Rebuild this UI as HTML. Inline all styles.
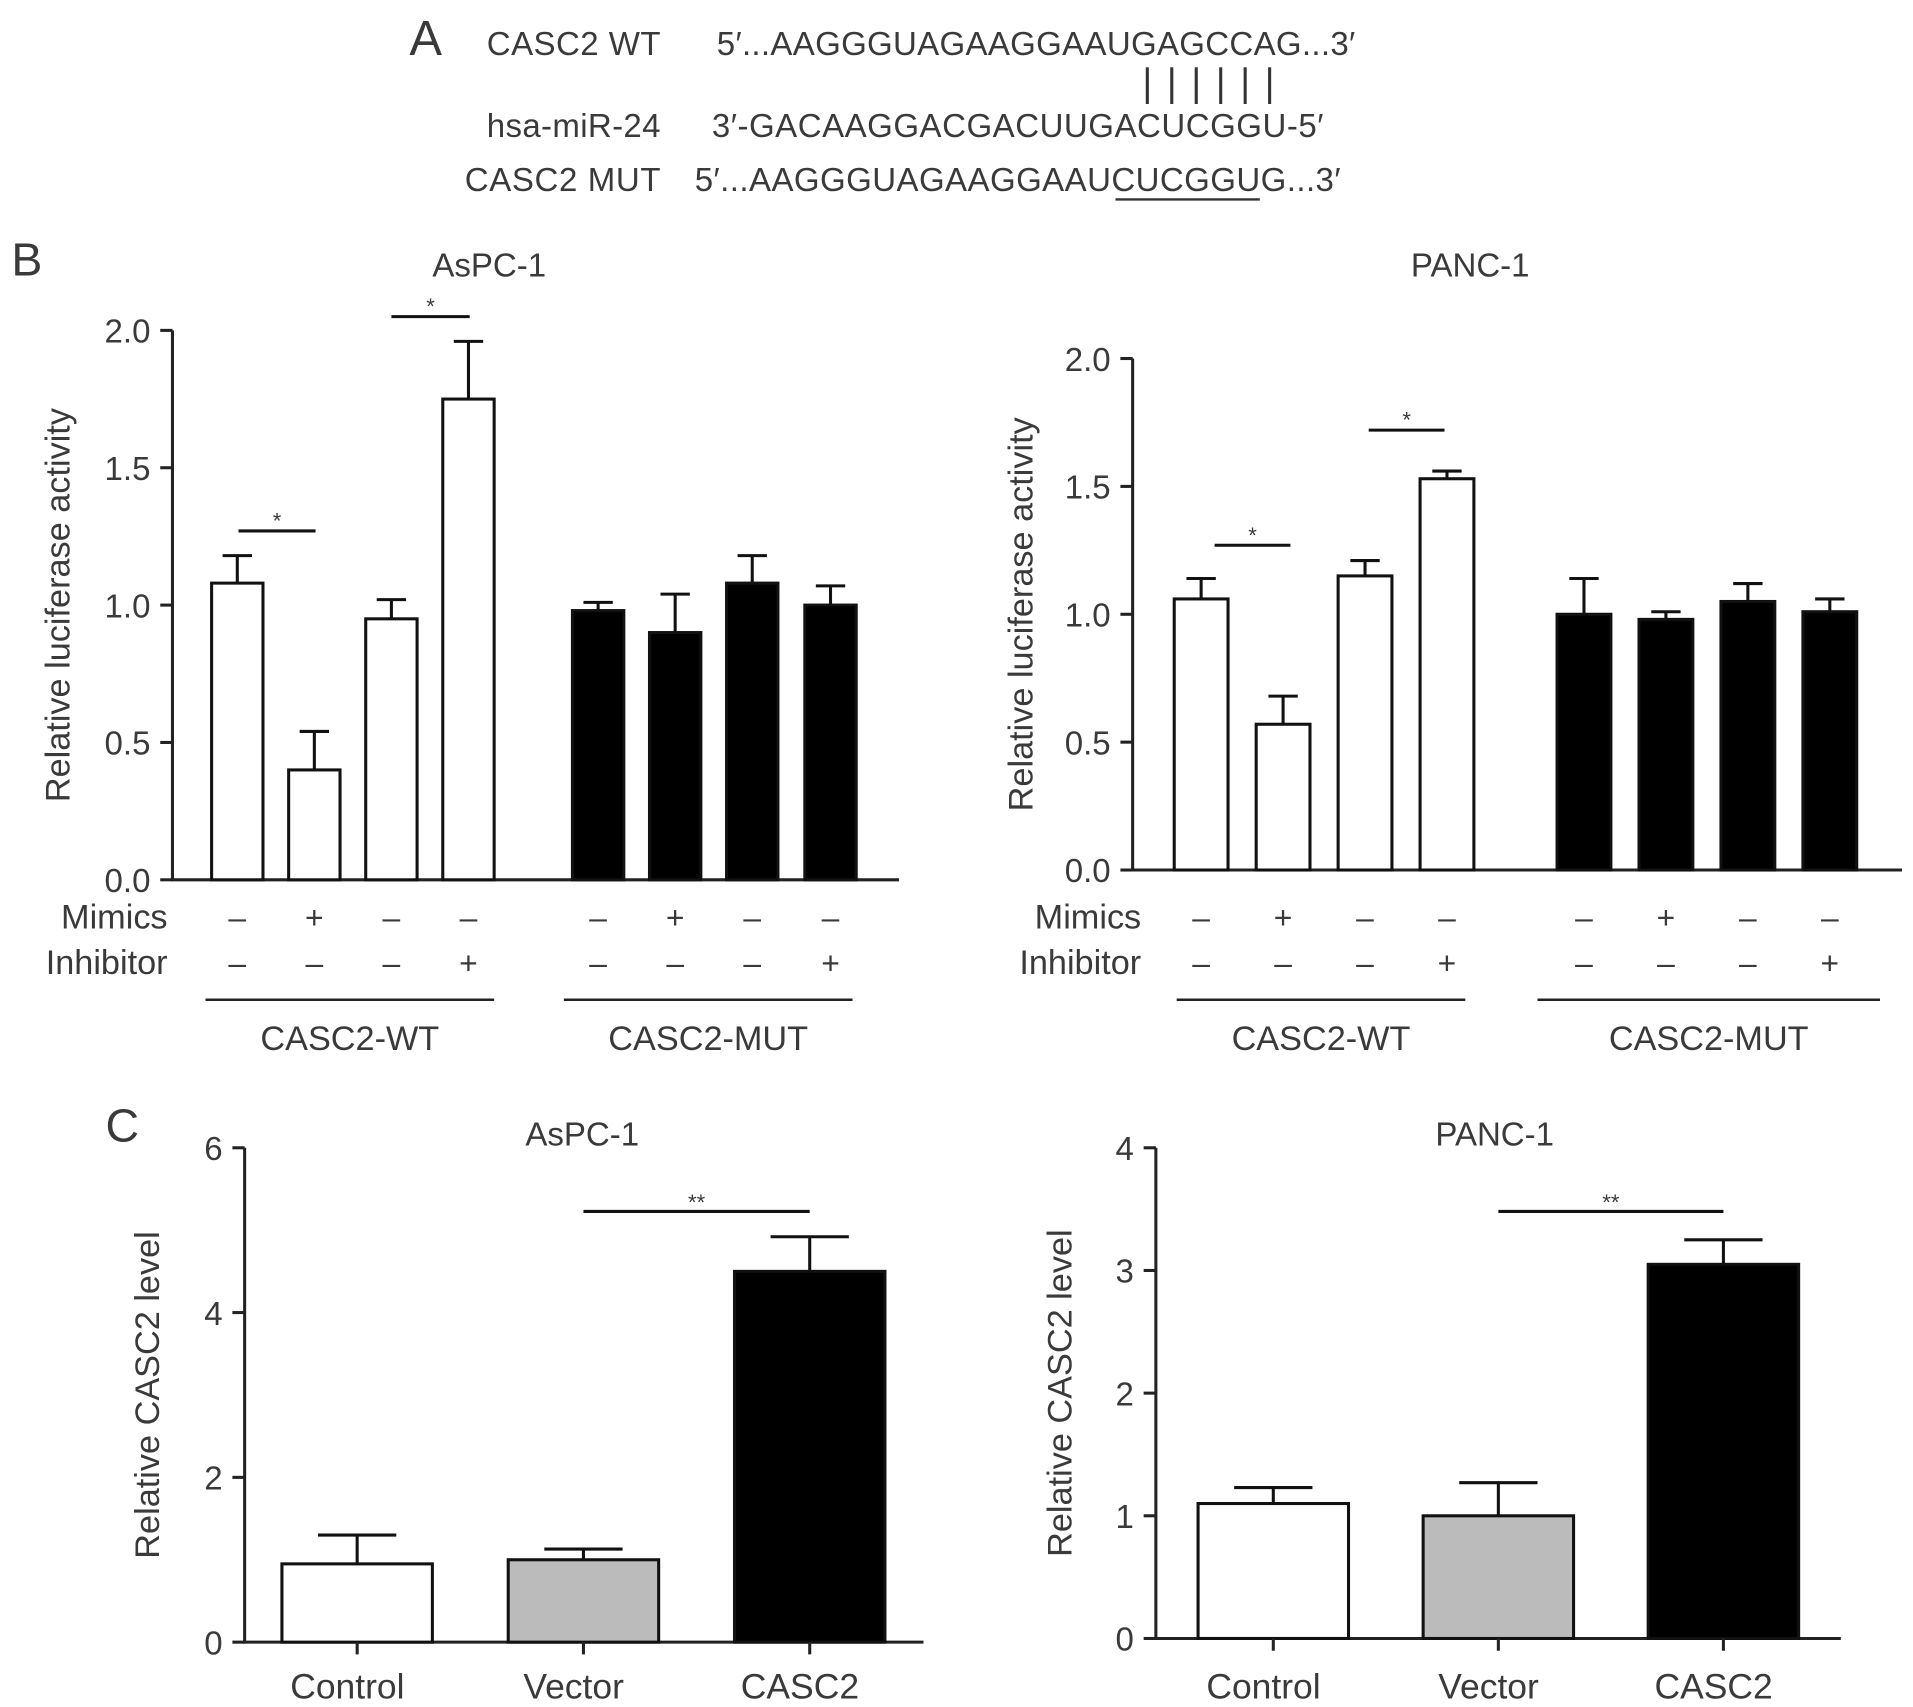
<!DOCTYPE html>
<html><head><meta charset="utf-8">
<style>
html,body{margin:0;padding:0;background:#fff;}
svg{display:block;font-family:"Liberation Sans",Arial,sans-serif;}
text{fill:#3a3a3a;}
</style></head>
<body>
<svg id="fig" width="1913" height="1707" viewBox="0 0 1564 1395" preserveAspectRatio="none" xmlns="http://www.w3.org/2000/svg">
<g font-size="27">
<text x="348" y="45" font-size="40" text-anchor="middle">A</text>
<text x="540" y="45" text-anchor="end" textLength="142">CASC2 WT</text>
<text x="586" y="45" textLength="522">5′...AAGGGUAGAAGGAAUGAGCCAG...3′</text>
<g stroke="#333" stroke-width="2.5">
<line x1="938" y1="55" x2="938" y2="85"/><line x1="958" y1="55" x2="958" y2="85"/><line x1="978" y1="55" x2="978" y2="85"/><line x1="998" y1="55" x2="998" y2="85"/><line x1="1018" y1="55" x2="1018" y2="85"/><line x1="1038" y1="55" x2="1038" y2="85"/>
</g>
<text x="540" y="112" text-anchor="end" textLength="142">hsa-miR-24</text>
<text x="582" y="112" textLength="500">3′-GACAAGGACGACUUGACUCGGU-5′</text>
<text x="540" y="156" text-anchor="end" textLength="160">CASC2 MUT</text>
<text x="568" y="156" textLength="528">5′...AAGGGUAGAAGGAAUCUCGGUG...3′</text>
<line x1="912" y1="163" x2="1030" y2="163" stroke="#333" stroke-width="2"/>
</g>
<text x="22" y="225" font-size="38" text-anchor="middle">B</text>
<text x="100" y="933" font-size="38" text-anchor="middle">C</text>
<g id="charts"></g>
</svg>
<script>
// Panel B AsPC-1
const bLeftValues = [1.08, 0.40, 0.95, 1.75, 0.98, 0.90, 1.08, 1.00];
const bLeftErrors = [1.18, 0.54, 1.02, 1.96, 1.01, 1.04, 1.18, 1.07];
// Panel B PANC-1
const bRightValues = [1.06, 0.57, 1.15, 1.53, 1.00, 0.98, 1.05, 1.01];
const bRightErrors = [1.14, 0.68, 1.21, 1.56, 1.14, 1.01, 1.12, 1.06];
const bTicks = [0.0, 0.5, 1.0, 1.5, 2.0];
const bTickLabels = ["0.0", "0.5", "1.0", "1.5", "2.0"];
const mimicsRow = ["–", "+", "–", "–", "–", "+", "–", "–"];
const inhibitorRow = ["–", "–", "–", "+", "–", "–", "–", "+"];
// Panel C
const cCategories = ["Control", "Vector", "CASC2"];
const cLeftValues = [0.95, 1.00, 4.50];
const cLeftErrors = [1.30, 1.13, 4.92];
const cRightValues = [1.10, 1.00, 3.05];
const cRightErrors = [1.23, 1.27, 3.25];
const cLeftTicks = [0, 2, 4, 6];
const cRightTicks = [0, 1, 2, 3, 4];

const NS = "http://www.w3.org/2000/svg";
const root = document.getElementById('charts');
function mk(tag, attrs, parent, txt){
  const e = document.createElementNS(NS, tag);
  for (const k in attrs) e.setAttribute(k, attrs[k]);
  if (txt !== undefined) e.textContent = txt;
  (parent || root).appendChild(e);
  return e;
}

function drawB(cfg){
  const g = mk('g', {});
  
  
  const y = v => cfg.y0 - (v / 2.0) * (cfg.y0 - cfg.y2);
  const t = mk('text', {x: cfg.titleX, y: 226, 'font-size': 27, 'text-anchor': 'middle'}, g, cfg.title);
  
  
  const yl = mk('text', {x: 0, y: 0, 'font-size': 28, 'text-anchor': 'middle', transform: `translate(${cfg.ylabX},${(cfg.y0 + cfg.y2) / 2}) rotate(-90)`}, g, 'Relative luciferase activity');
  
  
  const ax = mk('path', {d: `M${cfg.ax},${y(2)} V${cfg.y0} H${cfg.axEnd}`, stroke: '#222', 'stroke-width': 2.5, fill: 'none'}, g);
  
  
  bTicks.forEach((v, i) => {
    const tk = mk('line', {x1: cfg.ax - 10, x2: cfg.ax, y1: y(v), y2: y(v), stroke: '#222', 'stroke-width': 2.5}, g);
    
    
    const tl = mk('text', {x: cfg.ax - 18, y: y(v) + 10, 'font-size': 27, 'text-anchor': 'end'}, g, bTickLabels[i]);
    
    
  });
  cfg.values.forEach((v, i) => {
    const cx = cfg.centers[i], w = cfg.bw;
    const fill = i < 4 ? '#fff' : '#000';
    const eb = mk('path', {d: `M${cx},${y(v)} V${y(cfg.errors[i])} M${cx - 12},${y(cfg.errors[i])} H${cx + 12}`, stroke: '#111', 'stroke-width': 2.5, fill: 'none'}, g);
    
    
    const r = mk('rect', {x: cx - w / 2, y: y(v), width: w, height: cfg.y0 - y(v), fill: fill, stroke: '#111', 'stroke-width': 2.5}, g);
    
    
    const m = mk('text', {x: cx, y: 759, 'font-size': 26, 'text-anchor': 'middle'}, g, mimicsRow[i]);
    
    
    const n = mk('text', {x: cx, y: 796, 'font-size': 26, 'text-anchor': 'middle'}, g, inhibitorRow[i]);
    
    
  });
  const ml = mk('text', {x: cfg.rowLabX, y: 759, 'font-size': 28, 'text-anchor': 'end'}, g, 'Mimics');
  
  
  const il = mk('text', {x: cfg.rowLabX, y: 796, 'font-size': 28, 'text-anchor': 'end'}, g, 'Inhibitor');
  
  
  cfg.groups.forEach(gr => {
    const gl = mk('line', {x1: gr[0], x2: gr[1], y1: 817, y2: 817, stroke: '#222', 'stroke-width': 2}, g);
    
    
    const gt = mk('text', {x: (gr[0] + gr[1]) / 2, y: 858, 'font-size': 28, 'text-anchor': 'middle'}, g, gr[2]);
    
    
  });
  cfg.sig.forEach(s => {
    const sl = mk('line', {x1: s[0], x2: s[1], y1: y(s[2]), y2: y(s[2]), stroke: '#111', 'stroke-width': 2.5}, g);
    
    
    const st = mk('text', {x: (s[0] + s[1]) / 2, y: y(s[2]) - 2, 'font-size': 18, 'text-anchor': 'middle'}, g, '*');
    
    
  });
}

drawB({name: 'chart-b-aspc1', title: 'AsPC-1', titleX: 400, ylabX: 57, ax: 141, axEnd: 735, y0: 719, y2: 270,
  centers: [194, 257, 320, 383, 489, 552, 615, 679], bw: 42, values: bLeftValues, errors: bLeftErrors, rowLabX: 137,
  groups: [[168, 404, 'CASC2-WT'], [461, 697, 'CASC2-MUT']], sig: [[195, 258, 1.27], [320, 384, 2.05]]});
drawB({name: 'chart-b-panc1', title: 'PANC-1', titleX: 1202, ylabX: 844, ax: 926, axEnd: 1555, y0: 711, y2: 293,
  centers: [982, 1049, 1116, 1183, 1295, 1362, 1429, 1496], bw: 44, values: bRightValues, errors: bRightErrors, rowLabX: 933,
  groups: [[962, 1198, 'CASC2-WT'], [1257, 1537, 'CASC2-MUT']], sig: [[993, 1055, 1.27], [1119, 1181, 1.72]]});

function drawC(cfg){
  const g = mk('g', {});
  
  
  const max = cfg.ticks[cfg.ticks.length - 1];
  const y = v => cfg.y0 - (v / max) * (cfg.y0 - cfg.yTop);
  const t = mk('text', {x: cfg.titleX, y: 936, 'font-size': 27, 'text-anchor': 'middle'}, g, cfg.title);
  
  
  const yl = mk('text', {x: 0, y: 0, 'font-size': 28, 'text-anchor': 'middle', transform: `translate(${cfg.ylabX},${(cfg.y0 + cfg.yTop) / 2}) rotate(-90)`}, g, 'Relative CASC2 level');
  
  
  const ax = mk('path', {d: `M${cfg.ax},${cfg.yTop} V${cfg.y0} H${cfg.axEnd}`, stroke: '#222', 'stroke-width': 2.5, fill: 'none'}, g);
  
  
  cfg.ticks.forEach(v => {
    const tk = mk('line', {x1: cfg.ax - 10, x2: cfg.ax, y1: y(v), y2: y(v), stroke: '#222', 'stroke-width': 2.5}, g);
    
    
    const tl = mk('text', {x: cfg.ax - 18, y: y(v) + 10, 'font-size': 27, 'text-anchor': 'end'}, g, String(v));
    
    
  });
  const fills = ['#fff', '#bbb', '#000'];
  cfg.values.forEach((v, i) => {
    const cx = cfg.start + cfg.step * i, w = 123;
    const eb = mk('path', {d: `M${cx},${y(v)} V${y(cfg.errors[i])} M${cx - 32},${y(cfg.errors[i])} H${cx + 32}`, stroke: '#111', 'stroke-width': 2.5, fill: 'none'}, g);
    
    
    const r = mk('rect', {x: cx - w / 2, y: y(v), width: w, height: cfg.y0 - y(v), fill: fills[i], stroke: '#111', 'stroke-width': 2.5}, g);
    
    
    const tk = mk('line', {x1: cx, x2: cx, y1: cfg.y0, y2: cfg.y0 + 10, stroke: '#222', 'stroke-width': 2.5}, g);
    
    
    const tl = mk('text', {x: cx - 8, y: 1388, 'font-size': 29, 'text-anchor': 'middle'}, g, cCategories[i]);
    
    
  });
  const c1 = cfg.start + cfg.step, c2 = cfg.start + cfg.step * 2;
  const sl = mk('line', {x1: c1, x2: c2, y1: 990, y2: 990, stroke: '#111', 'stroke-width': 2.5}, g);
  
  
  const st = mk('text', {x: (c1 + c2) / 2, y: 989, 'font-size': 18, 'text-anchor': 'middle'}, g, '**');
  
  
}

drawC({name: 'chart-c-aspc1', title: 'AsPC-1', titleX: 476, ylabX: 130, ax: 200, axEnd: 755, y0: 1342, yTop: 938,
  ticks: cLeftTicks, values: cLeftValues, errors: cLeftErrors, start: 292, step: 185});
drawC({name: 'chart-c-panc1', title: 'PANC-1', titleX: 1222, ylabX: 876, ax: 945, axEnd: 1505, y0: 1339, yTop: 938,
  ticks: cRightTicks, values: cRightValues, errors: cRightErrors, start: 1041, step: 184});
</script>
</body></html>
